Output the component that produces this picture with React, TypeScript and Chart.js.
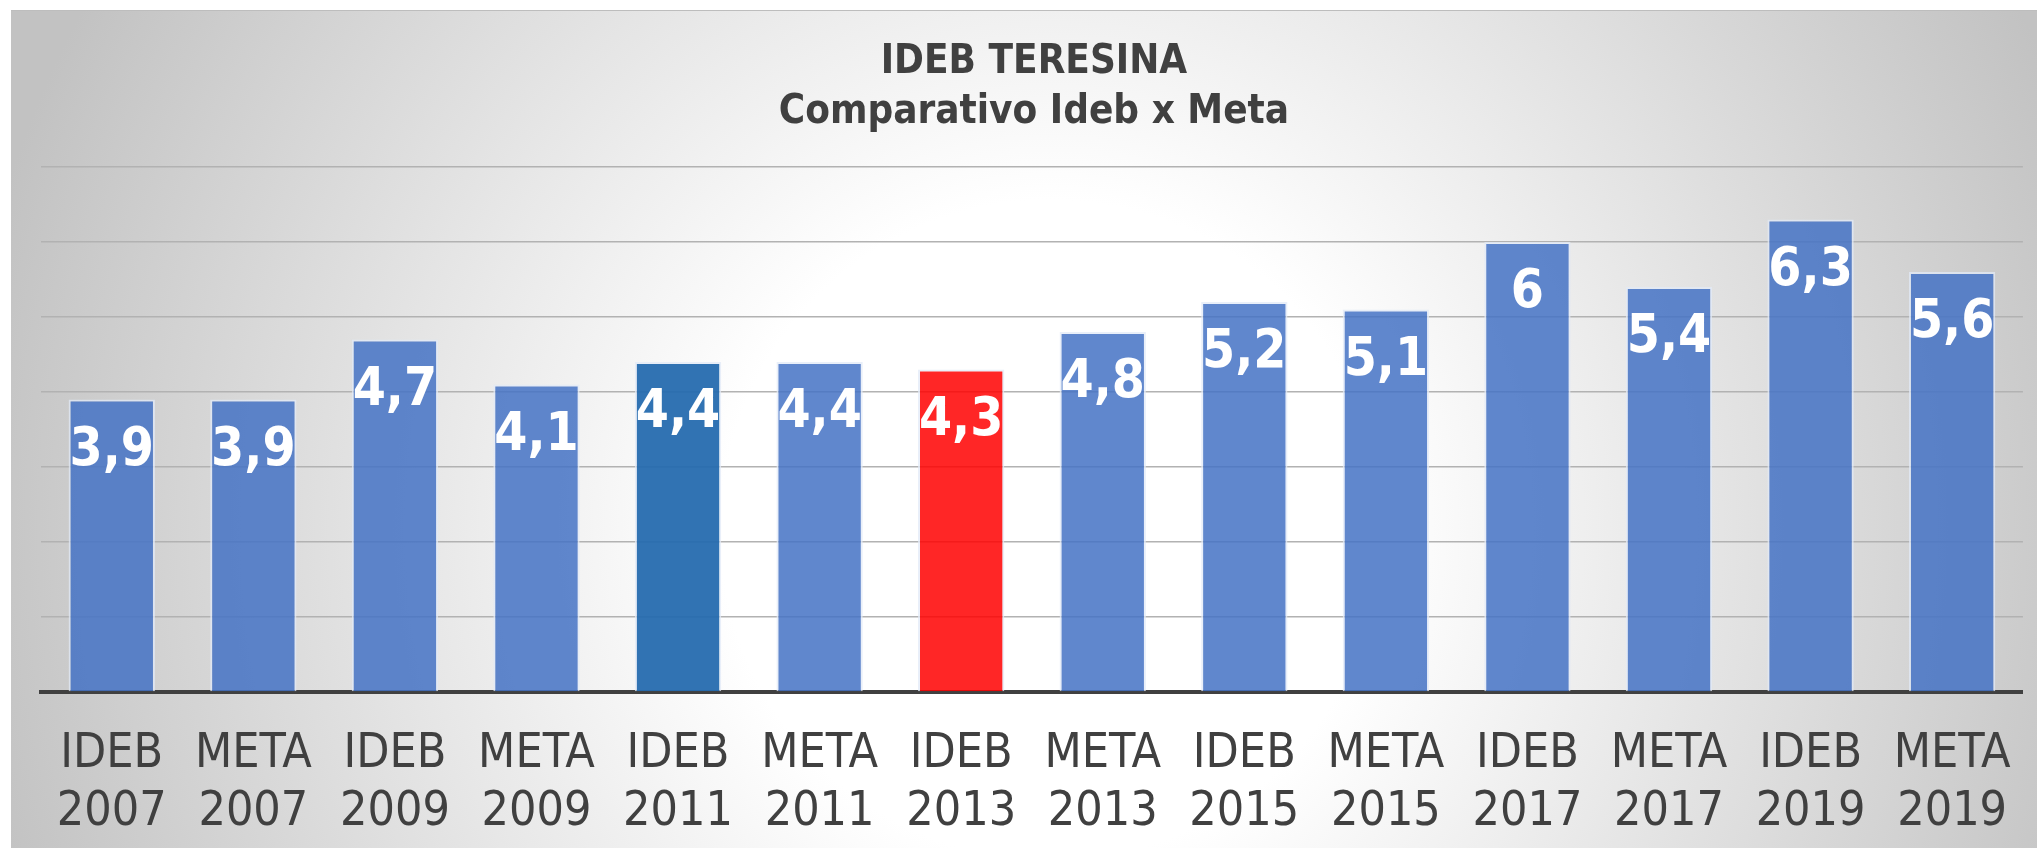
import React, { useEffect, useRef } from 'react';
import { Chart, registerables } from 'chart.js';

Chart.register(...registerables);

// ---- data ----
const categoryKinds = ['IDEB', 'META', 'IDEB', 'META', 'IDEB', 'META', 'IDEB', 'META', 'IDEB', 'META', 'IDEB', 'META', 'IDEB', 'META'];
const categoryYears = ['2007', '2007', '2009', '2009', '2011', '2011', '2013', '2013', '2015', '2015', '2017', '2017', '2019', '2019'];
const values = [3.9, 3.9, 4.7, 4.1, 4.4, 4.4, 4.3, 4.8, 5.2, 5.1, 6, 5.4, 6.3, 5.6];
const barColors = [
  'rgba(68,114,196,0.85)', 'rgba(68,114,196,0.85)', 'rgba(68,114,196,0.85)', 'rgba(68,114,196,0.85)',
  'rgba(38,108,175,0.95)', 'rgba(68,114,196,0.85)', 'rgba(255,0,0,0.85)', 'rgba(68,114,196,0.85)',
  'rgba(68,114,196,0.85)', 'rgba(68,114,196,0.85)', 'rgba(68,114,196,0.85)', 'rgba(68,114,196,0.85)',
  'rgba(68,114,196,0.85)', 'rgba(68,114,196,0.85)',
];
const titleLines = ['IDEB TERESINA', 'Comparativo Ideb x Meta'];
const yMin = 0;
const yMax = 7;
const yStep = 1;

const labels = categoryKinds.map((k, i) => [k, categoryYears[i]]);
const fmt = (v: number) => String(v).replace('.', ',');

const COND = "'DejaVu Sans Condensed', 'DejaVu Sans', sans-serif";

const valueLabelPlugin = {
  id: 'valueLabels',
  afterDatasetsDraw(chart: any) {
    const ctx = chart.ctx;
    const meta = chart.getDatasetMeta(0);
    ctx.save();
    ctx.font = `bold 53px ${COND}`;
    ctx.fillStyle = '#ffffff';
    ctx.textAlign = 'center';
    ctx.textBaseline = 'alphabetic';
    meta.data.forEach((bar: any, i: number) => {
      ctx.fillText(fmt(values[i]), bar.x, bar.y + 65);
    });
    ctx.restore();
  },
};

const titlePlugin = {
  id: 'customTitle',
  afterDraw(chart: any) {
    const ctx = chart.ctx;
    const ca = chart.chartArea;
    const cx = (ca.left + ca.right) / 2 + 2;
    ctx.save();
    ctx.font = `bold 40px ${COND}`;
    ctx.fillStyle = '#404040';
    ctx.textAlign = 'center';
    ctx.textBaseline = 'alphabetic';
    ctx.fillText(titleLines[0], cx, 63);
    ctx.fillText(titleLines[1], cx, 113);
    ctx.restore();
  },
};

export default function App() {
  const ref = useRef<HTMLCanvasElement | null>(null);

  useEffect(() => {
    if (!ref.current) return;
    const chart = new Chart(ref.current, {
      type: 'bar',
      data: {
        labels,
        datasets: [
          {
            data: values,
            backgroundColor: barColors,
            borderColor: 'rgba(225,233,247,0.75)',
            borderWidth: 2,
            barPercentage: 0.61,
            categoryPercentage: 1,
          },
        ],
      },
      options: {
        responsive: false,
        animation: false,
        devicePixelRatio: 1,
        layout: { padding: { left: 30, right: 14, top: 157, bottom: 12 } },
        plugins: {
          legend: { display: false },
          title: { display: false },
          tooltip: { enabled: false },
        },
        scales: {
          x: {
            grid: { display: false },
            border: { display: true, color: '#404040', width: 4 },
            ticks: {
              color: '#404040',
              font: { family: COND, size: 48, lineHeight: 58 / 48 },
              padding: 26,
              autoSkip: false,
              maxRotation: 0,
              minRotation: 0,
            },
            afterFit: (scale: any) => {
              scale.height = 144;
            },
          },
          y: {
            min: yMin,
            max: yMax,
            ticks: { display: false, stepSize: yStep },
            border: { display: false },
            grid: { color: '#b2b2b2', lineWidth: 1.5, drawTicks: false },
            afterFit: (scale: any) => {
              scale.width = 0;
            },
          },
        },
      },
      plugins: [valueLabelPlugin, titlePlugin],
    });
    return () => chart.destroy();
  }, []);

  return (
    <div
      style={{
        position: 'absolute',
        left: 11,
        top: 10,
        width: 2026,
        height: 838,
        overflow: 'hidden',
        background:
          'radial-gradient(circle 1100px at 1040px 520px, #ffffff 0%, #ffffff 30%, #c2c2c2 100%)',
        boxShadow: 'inset 0 1px 0 #bdbdbd',
      }}
    >
      <canvas ref={ref} width={2026} height={838} style={{ display: 'block' }} />
    </div>
  );
}
